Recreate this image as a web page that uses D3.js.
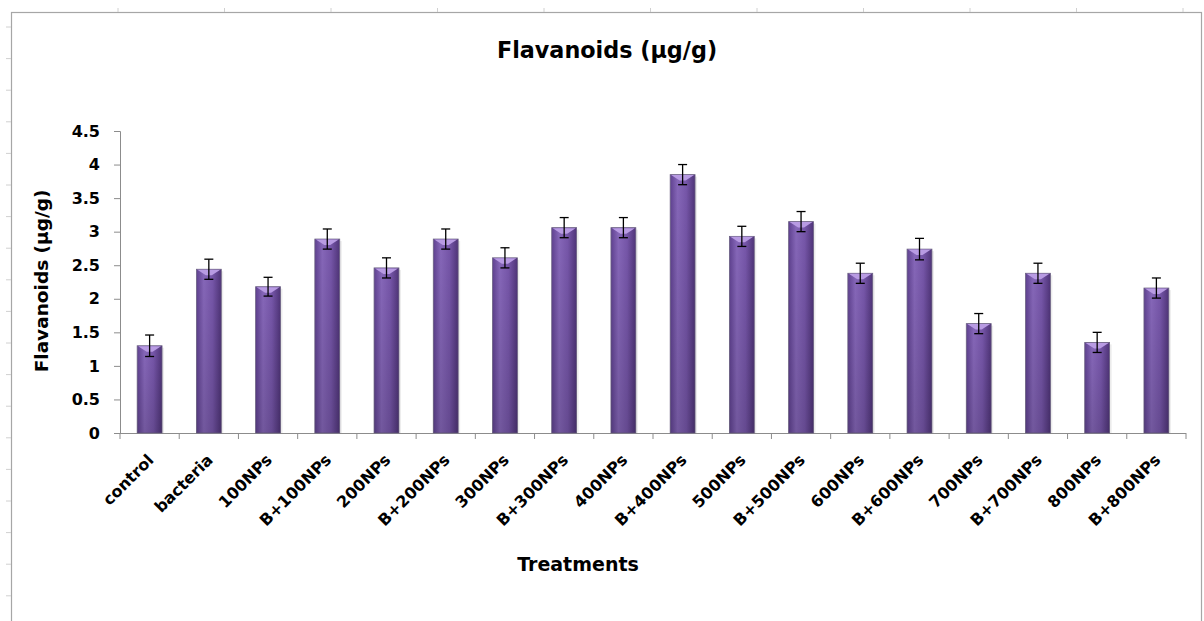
<!DOCTYPE html>
<html>
<head>
<meta charset="utf-8">
<script src="https://cdn.jsdelivr.net/npm/d3@7"></script>
<style>
  body { margin: 0; background: #fff; }
  text { font-family: "DejaVu Sans", sans-serif; font-weight: bold; fill: #000; }
</style>
</head>
<body>
<div id="chart"></div>
<script>
var treatments = ["control", "bacteria", "100NPs", "B+100NPs", "200NPs", "B+200NPs", "300NPs", "B+300NPs",
  "400NPs", "B+400NPs", "500NPs", "B+500NPs", "600NPs", "B+600NPs", "700NPs", "B+700NPs", "800NPs", "B+800NPs"];
var flavanoids = [1.30, 2.44, 2.18, 2.89, 2.46, 2.89, 2.61, 3.06, 3.06, 3.85, 2.93, 3.15, 2.38, 2.74, 1.63, 2.38, 1.35, 2.16];
var errors = [0.16, 0.15, 0.14, 0.15, 0.15, 0.15, 0.15, 0.15, 0.15, 0.15, 0.15, 0.15, 0.15, 0.16, 0.15, 0.15, 0.15, 0.15];
var yTicks = [0, 0.5, 1, 1.5, 2, 2.5, 3, 3.5, 4, 4.5];

var W = 1204, H = 621;
var plot = { left: 120, right: 1186, top: 131, bottom: 433 };

var svg = d3.select("#chart").append("svg")
  .attr("width", W).attr("height", H);

var defs = svg.append("defs");
var grad = defs.append("linearGradient").attr("id", "barGrad")
  .attr("x1", "0%").attr("x2", "100%").attr("y1", "0%").attr("y2", "0%");
grad.append("stop").attr("offset", "0%").attr("stop-color", "#5f4190");
grad.append("stop").attr("offset", "30%").attr("stop-color", "#8667b9");
grad.append("stop").attr("offset", "65%").attr("stop-color", "#7656a9");
grad.append("stop").attr("offset", "100%").attr("stop-color", "#4f3478");
var shade = defs.append("linearGradient").attr("id", "barShade")
  .attr("x1", "0%").attr("x2", "0%").attr("y1", "0%").attr("y2", "100%");
shade.append("stop").attr("offset", "0%").attr("stop-color", "#000").attr("stop-opacity", 0);
shade.append("stop").attr("offset", "100%").attr("stop-color", "#000").attr("stop-opacity", 0.15);

// spreadsheet frame
svg.append("rect")
  .attr("x", 11.5).attr("y", 12.5).attr("width", 1190).attr("height", 640)
  .attr("fill", "none").attr("stroke", "#a6a6a6").attr("stroke-width", 1.2);
var frameCols = d3.range(118, 1200, 106.5);
svg.selectAll(".colmark").data(frameCols).enter().append("line")
  .attr("x1", function(d) { return d; }).attr("x2", function(d) { return d; })
  .attr("y1", 8).attr("y2", 12)
  .attr("stroke", "#d0d0d0");
var frameRows = d3.range(27, 621, 31.6);
svg.selectAll(".rowmark").data(frameRows).enter().append("line")
  .attr("x1", 6).attr("x2", 11)
  .attr("y1", function(d) { return d; }).attr("y2", function(d) { return d; })
  .attr("stroke", "#d0d0d0");

var x = d3.scaleBand().domain(treatments).range([plot.left, plot.right]).paddingInner(0.58).paddingOuter(0.29);
var y = d3.scaleLinear().domain([0, 4.5]).range([plot.bottom, plot.top]);

// title
svg.append("text")
  .attr("x", 607).attr("y", 58)
  .attr("text-anchor", "middle")
  .attr("font-size", 22.3)
  .text("Flavanoids (µg/g)");

// y axis
var yAxis = d3.axisLeft(y).tickValues(yTicks).tickSize(6).tickPadding(14)
  .tickFormat(function(d) { return String(d); });
var gy = svg.append("g").attr("transform", "translate(" + plot.left + ",0)").call(yAxis);
gy.select(".domain").attr("stroke", "#8c8c8c");
gy.selectAll(".tick line").attr("stroke", "#8c8c8c");
gy.selectAll("text").attr("font-size", 16).attr("font-family", "'DejaVu Sans', sans-serif")
  .attr("font-weight", "bold").attr("fill", "#000");

svg.append("text")
  .attr("transform", "translate(48,281) rotate(-90)")
  .attr("text-anchor", "middle")
  .attr("font-size", 18.5)
  .text("Flavanoids (µg/g)");

// x axis: ticks on band boundaries
var boundaries = treatments.map(function(d) { return x(d) - x.step() * x.paddingInner() / 2; });
boundaries.push(plot.right);
svg.append("line")
  .attr("x1", plot.left).attr("x2", plot.right)
  .attr("y1", plot.bottom + 0.5).attr("y2", plot.bottom + 0.5)
  .attr("stroke", "#8c8c8c");
svg.selectAll(".xtick").data(boundaries).enter().append("line")
  .attr("x1", function(d) { return d; }).attr("x2", function(d) { return d; })
  .attr("y1", plot.bottom).attr("y2", plot.bottom + 6)
  .attr("stroke", "#8c8c8c");

svg.selectAll(".xlabel").data(treatments).enter().append("text")
  .attr("text-anchor", "end")
  .attr("font-size", 16)
  .attr("transform", function(d) {
    return "translate(" + (x(d) + x.bandwidth() / 2 + 5) + "," + (plot.bottom + 28) + ") rotate(-45)";
  })
  .text(function(d) { return d; });

svg.append("text")
  .attr("x", 578).attr("y", 571)
  .attr("text-anchor", "middle")
  .attr("font-size", 19)
  .text("Treatments");

// bars
var bars = svg.selectAll(".bar").data(treatments).enter().append("g");
bars.append("rect")
  .attr("x", function(d) { return x(d) + 2; })
  .attr("y", function(d, i) { return y(flavanoids[i]) + 2; })
  .attr("width", x.bandwidth())
  .attr("height", function(d, i) { return plot.bottom - y(flavanoids[i]) - 2; })
  .attr("fill", "#000").attr("opacity", 0.08);
bars.append("rect")
  .attr("x", function(d) { return x(d); })
  .attr("y", function(d, i) { return y(flavanoids[i]); })
  .attr("width", x.bandwidth())
  .attr("height", function(d, i) { return plot.bottom - y(flavanoids[i]); })
  .attr("fill", "url(#barGrad)")
  .attr("stroke", "#6d6384").attr("stroke-width", 0.8);
bars.append("rect")
  .attr("x", function(d) { return x(d); })
  .attr("y", function(d, i) { return y(flavanoids[i]); })
  .attr("width", x.bandwidth())
  .attr("height", function(d, i) { return plot.bottom - y(flavanoids[i]); })
  .attr("fill", "url(#barShade)");
bars.append("path")
  .attr("d", function(d, i) {
    var x0 = x(d), bw = x.bandwidth(), t = y(flavanoids[i]);
    return "M" + (x0 + 1) + "," + (t + 0.5) + "L" + (x0 + bw - 1) + "," + (t + 0.5) +
      "L" + (x0 + bw * 0.62) + "," + (t + 6) + "L" + (x0 + bw * 0.38) + "," + (t + 6) + "Z";
  })
  .attr("fill", "#b89be3");

// error bars
var eb = svg.selectAll(".err").data(treatments).enter().append("g")
  .attr("stroke", "#000").attr("stroke-width", 1.3);
eb.append("line")
  .attr("x1", function(d) { return x(d) + x.bandwidth() / 2; })
  .attr("x2", function(d) { return x(d) + x.bandwidth() / 2; })
  .attr("y1", function(d, i) { return y(flavanoids[i] + errors[i]); })
  .attr("y2", function(d, i) { return y(flavanoids[i] - errors[i]); });
eb.append("line")
  .attr("x1", function(d) { return x(d) + x.bandwidth() / 2 - 4.5; })
  .attr("x2", function(d) { return x(d) + x.bandwidth() / 2 + 4.5; })
  .attr("y1", function(d, i) { return y(flavanoids[i] + errors[i]); })
  .attr("y2", function(d, i) { return y(flavanoids[i] + errors[i]); });
eb.append("line")
  .attr("x1", function(d) { return x(d) + x.bandwidth() / 2 - 4.5; })
  .attr("x2", function(d) { return x(d) + x.bandwidth() / 2 + 4.5; })
  .attr("y1", function(d, i) { return y(flavanoids[i] - errors[i]); })
  .attr("y2", function(d, i) { return y(flavanoids[i] - errors[i]); });
</script>
</body>
</html>
